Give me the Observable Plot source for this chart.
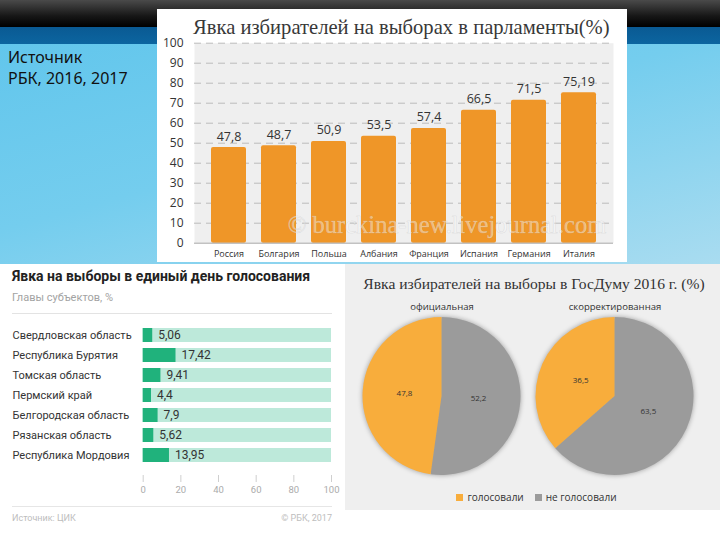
<!DOCTYPE html>
<html><head><meta charset="utf-8">
<script src="https://cdn.jsdelivr.net/npm/d3@7"></script>
<script src="https://cdn.jsdelivr.net/npm/@observablehq/plot@0.6"></script>
<style>
html,body{margin:0;padding:0}
body{width:720px;height:540px;overflow:hidden;position:relative;background:#fff;font-family:Roboto,sans-serif}
.abs{position:absolute;white-space:nowrap}
</style></head><body>
<div class="abs" style="left:0;top:0;width:720px;height:27px;background:linear-gradient(#4a4a4a,#161616 60%,#000)"></div>
<div class="abs" style="left:0;top:27px;width:720px;height:17px;background:linear-gradient(#0a5a93,#0c65a0)"></div>
<div class="abs" style="left:0;top:44px;width:720px;height:220px;background:linear-gradient(165deg,#62c6ec 0%,#74cdee 45%,#a9dcf0 100%)"></div>
<div class="abs" style="left:8px;top:47px;font-family:'Noto Sans',sans-serif;font-size:16px;line-height:21px;color:#111">Источник<br>РБК, 2016, 2017</div>

<div class="abs" id="topPanel" style="left:157px;top:9px;width:470px;height:253px;background:#fff"></div>
<div class="abs" style="left:193px;top:15px;font-family:'Liberation Serif',serif;font-size:20.6px;line-height:24px;color:#383838">Явка избирателей на выборах в парламенты(%)</div>
<div class="abs" id="topChart" style="left:157px;top:35px"></div>

<div class="abs" style="left:12px;top:267px;font-family:Roboto,sans-serif;font-weight:bold;font-size:14px;line-height:18px;color:#222">Явка на выборы в единый день голосования</div>
<div class="abs" style="left:12px;top:290px;font-family:Roboto,sans-serif;font-size:11px;line-height:16px;color:#a3a3a3">Главы субъектов, %</div>
<div class="abs" style="left:12px;top:313px;width:320px;height:1px;background:#e3e3e3"></div>
<div class="abs" id="leftChart" style="left:0;top:318px"></div>
<div class="abs" style="left:12px;top:506px;width:320px;height:1px;background:#e6e6e6"></div>
<div class="abs" style="left:12px;top:511px;font-size:9px;line-height:14px;color:#bdbdbd">Источник: ЦИК</div>
<div class="abs" style="left:232px;width:100px;text-align:right;top:511px;font-size:9px;line-height:14px;color:#bdbdbd">© РБК, 2017</div>

<div class="abs" style="left:345px;top:264px;width:375px;height:246px;background:#efefef"></div>
<div class="abs" style="left:345px;width:378px;text-align:center;top:273px;font-family:'Liberation Serif',serif;font-size:15.6px;line-height:22px;color:#333">Явка избирателей на выборы в ГосДуму 2016 г. (%)</div>
<div class="abs" id="pieChart" style="left:345px;top:292px"></div>
<div class="abs" id="pieLegend" style="left:349px;width:375px;top:490px;display:flex;justify-content:center;align-items:center;font-family:'Open Sans',sans-serif;font-size:10px;line-height:14px;color:#333"></div>

<script>
// ---- data: parliament turnout ----
const countries = ["Россия","Болгария","Польша","Албания","Франция","Испания","Германия","Италия"];
const turnout = [47.8, 48.7, 50.9, 53.5, 57.4, 66.5, 71.5, 75.19];
const turnoutTicks = [0,10,20,30,40,50,60,70,80,90,100];
const watermark = "© burckina-new.livejournal.com";

// ---- data: single voting day ----
const regions = ["Свердловская область","Республика Бурятия","Томская область","Пермский край","Белгородская область","Рязанская область","Республика Мордовия"];
const regionTurnout = [5.06, 17.42, 9.41, 4.4, 7.9, 5.62, 13.95];
const regionTicks = [0,20,40,60,80,100];

// ---- data: State Duma 2016 ----
const pieNames = ["официальная","скорректированная"];
const voted = [47.8, 36.5];
const notVoted = [52.2, 63.5];
const pieKeys = ["голосовали","не голосовали"];
const pieColors = ["#f8ad3c","#9b9b9b"];

const fmt = v => String(v).replace(".", ",");

// ---- top bar chart ----
const topData = countries.map((c, i) => ({country: c, value: turnout[i]}));
const topChart = Plot.plot({
  width: 470, height: 227,
  marginLeft: 37, marginRight: 14, marginTop: 7.7, marginBottom: 19.3,
  x: {domain: countries, padding: 0.31},
  y: {domain: [0, d3.max(turnoutTicks)]},
  style: {background: "transparent", fontFamily: "'Open Sans',sans-serif", color: "#333"},
  marks: [
    Plot.frame({fill: "#efefef", stroke: null}),
    Plot.ruleY(turnoutTicks.filter(d => d > 0), {stroke: "#bcbcbc", strokeDasharray: "7,5"}),
    Plot.barY(topData, {x: "country", y: "value", fill: "#ef9628", rx: 2}),
    Plot.ruleY([0], {stroke: "#a8a8a8"}),
    Plot.text(topData, {x: "country", y: "value", text: d => fmt(d.value), dy: -11, fontSize: 12.5, fill: "#333"}),
    Plot.text([watermark], {frameAnchor: "bottom", text: d => d, dx: 43, dy: -10.7, fontSize: 24.5, fontFamily: "'Liberation Serif',serif", fill: "#ffffff", fillOpacity: 0.4, stroke: "#b8b8b8", strokeOpacity: 0.45, strokeWidth: 0.6}),
    Plot.axisY({ticks: turnoutTicks, tickSize: 0, tickPadding: 11, fontSize: 12, color: "#333", label: null}),
    Plot.axisX({tickSize: 0, tickPadding: 7, fontSize: 9, color: "#333", label: null})
  ]
});
document.getElementById("topChart").appendChild(topChart);

// ---- left horizontal bar chart ----
const rows = regions.map((r, i) => ({region: r, value: regionTurnout[i]}));
const xMax = d3.max(regionTicks);
const leftChart = Plot.plot({
  width: 343, height: 185,
  marginLeft: 142.7, marginRight: 12, marginTop: 5.3, marginBottom: 28,
  x: {domain: [0, xMax]},
  y: {domain: regions, paddingInner: 0.28, paddingOuter: 0.14, insetBottom: 8.8, axis: null},
  style: {background: "transparent", fontFamily: "Roboto,sans-serif", color: "#333"},
  marks: [
    Plot.barX(rows, {y: "region", x: () => xMax, fill: "#bde9da"}),
    Plot.barX(rows, {y: "region", x: "value", fill: "#20b27c"}),
    Plot.text(rows, {y: "region", x: "value", text: d => fmt(d.value), dx: 5.5, textAnchor: "start", fontSize: 12, fill: "#333"}),
    Plot.text(rows, {y: "region", text: "region", frameAnchor: "left", textAnchor: "start", dx: -130.7, fontSize: 11, fill: "#333"}),
    Plot.axisX({ticks: regionTicks, tickSize: 7, tickPadding: 4, fontSize: 9.5, stroke: "#cfcfcf", fill: "#ababab", label: null})
  ]
});
document.getElementById("leftChart").appendChild(leftChart);

// ---- pies ----
const pies = pieNames.map((n, i) => ({name: n, slices: [
  {key: pieKeys[1], value: notVoted[i], color: pieColors[1]},
  {key: pieKeys[0], value: voted[i], color: pieColors[0]}
]}));
function pieMark(index, scales) {
  const g = d3.create("svg:g").style("filter", "drop-shadow(0 0 2.5px rgba(0,0,0,0.35))");
  const bw = scales.x.bandwidth ? scales.x.bandwidth() : 0;
  const cy = scales.y(0);
  const r = Math.abs(scales.y(-1) - scales.y(1)) / 2;
  const arc = d3.arc().innerRadius(0).outerRadius(r);
  const lab = d3.arc().innerRadius(r * 0.47).outerRadius(r * 0.47);
  const gl = d3.create("svg:g");
  for (const p of pies) {
    const cx = scales.x(p.name) + bw / 2;
    const arcs = d3.pie().sort(null).value(d => d.value)(p.slices);
    const pg = g.append("g").attr("transform", `translate(${cx},${cy})`);
    pg.selectAll("path").data(arcs).join("path").attr("d", arc).attr("fill", d => d.data.color);
    const lg = gl.append("g").attr("transform", `translate(${cx},${cy})`);
    lg.selectAll("text").data(arcs).join("text")
      .attr("transform", d => `translate(${lab.centroid(d)})`)
      .attr("text-anchor", "middle").attr("dy", "0.32em")
      .attr("font-size", 8).attr("fill", "#333")
      .text(d => fmt(d.data.value));
  }
  const outer = d3.create("svg:g");
  outer.append(() => g.node());
  outer.append(() => gl.node());
  return outer.node();
}
const pieChart = Plot.plot({
  width: 375, height: 195,
  marginLeft: 10, marginRight: 19, marginTop: 25, marginBottom: 12,
  x: {type: "band", domain: pieNames, padding: 0, axis: null},
  y: {domain: [-1, 1], axis: null},
  style: {background: "transparent", fontFamily: "'Open Sans',sans-serif", color: "#333"},
  marks: [
    pieMark,
    Plot.text(pies, {x: "name", y: () => 1, text: "name", dy: -11, fontSize: 9.5, fill: "#333"})
  ]
});
document.getElementById("pieChart").appendChild(pieChart);

const leg = document.getElementById("pieLegend");
pieKeys.forEach((k, i) => {
  const sw = document.createElement("span");
  sw.style.cssText = `display:inline-block;width:7px;height:7px;background:${pieColors[i]};margin:0 4px 0 ${i ? 11 : 0}px`;
  const t = document.createElement("span");
  t.textContent = k;
  leg.appendChild(sw); leg.appendChild(t);
});
</script>
</body></html>
